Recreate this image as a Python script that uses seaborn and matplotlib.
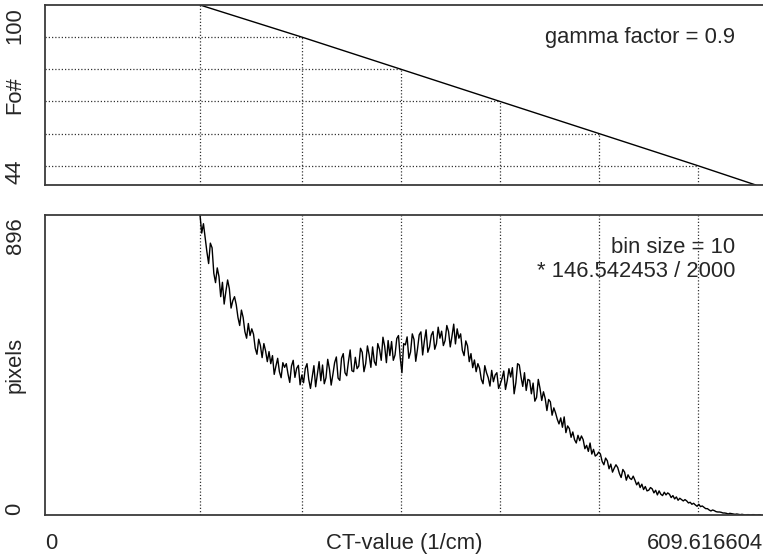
import numpy as np
import matplotlib
matplotlib.use("Agg")
import matplotlib.pyplot as plt
import seaborn as sns

sns.set_style("white")
plt.rcParams['font.family'] = ['Liberation Sans', 'DejaVu Sans']

# Fo# curve at the dotted grid crossings
fo_ct = [131.6, 218.2, 302.3, 386.3, 470.4, 554.4, 603.5]
fo_value = [100, 90, 80, 70, 60, 50, 44]
grid_levels = [100, 90, 80, 70, 60, 50]

x_max = 609.616604
fo_min, fo_max = 44, 100
pix_max = 896

# histogram (bin size = 10 * 146.542453 / 2000), read off every second bin,
# first bin at the Fo# = 100 line
bin_width = 10 * 146.542453 / 2000
hist_step = 2 * bin_width
hist_start = 131.6
hist_counts = [
    896, 842, 870, 828, 786, 751, 812, 798, 722, 694,
    738, 712, 652, 695, 630, 668, 702, 676, 618, 640,
    652, 628, 590, 566, 612, 590, 548, 528, 572, 536,
    556, 540, 498, 480, 525, 506, 470, 512, 490, 458,
    488, 452, 476, 420, 445, 468, 428, 410, 455, 441,
    452, 421, 396, 445, 462, 411, 438, 447, 389, 418,
    395, 438, 452, 405, 378, 412, 446, 383, 421, 458,
    401, 448, 392, 410, 465, 436, 388, 420, 455, 472,
    409, 402, 468, 482, 425, 416, 458, 493, 431, 428,
    471, 437, 445, 498, 486, 428, 452, 505, 478, 441,
    502, 458, 447, 512, 495, 462, 531, 504, 455, 521,
    476, 518, 462, 478, 527, 536, 470, 425, 512, 508,
    532, 468, 487, 541, 524, 459, 495, 538, 547, 478,
    520, 553, 486, 502, 537, 548, 495, 512, 561, 528,
    549, 506, 521, 566, 548, 502, 534, 570, 511, 556,
    528, 541, 492, 476, 520, 505, 458, 482, 440, 463,
    428, 452, 438, 405, 392, 446, 425, 410, 385, 432,
    398, 418, 425, 378, 392, 408, 430, 375, 401, 437,
    412, 440, 362, 395, 452, 448, 412, 384, 425, 372,
    405, 402, 362, 394, 340, 351, 405, 378, 342, 368,
    348, 312, 345, 338, 298, 320, 305, 286, 272, 290,
    262, 293, 246, 266, 258, 232, 248, 225, 215, 238,
    222, 236, 225, 198, 208, 190, 215, 182, 196, 176,
    180, 188, 182, 160, 150, 170, 162, 138, 152, 128,
    140, 150, 142, 124, 112, 136, 128, 104, 120, 110,
    106, 116, 104, 90, 98, 82, 92, 76, 85, 72,
    74, 82, 78, 66, 74, 60, 72, 62, 58, 68,
    60, 66, 62, 52, 58, 48, 54, 44, 50, 46,
    42, 46, 42, 36, 38, 32, 35, 30, 26, 32,
    25, 27, 23, 19, 19, 15, 12, 15, 13, 10,
    9, 9, 8, 6, 6, 5, 3, 5, 4, 3,
    2, 3, 2, 1, 2, 1, 0, 1, 1, 0,
    1, 1, 0, 0, 1, 0,
]
hist_ct = hist_start + hist_step * np.arange(len(hist_counts))

FS = 15.8
spine_col = "#3a3a3a"
dot = dict(color="#333333", lw=0.9, linestyle=(0, (1, 1.6)))

W, H = 763, 555
fig = plt.figure(figsize=(W / 100, H / 100), dpi=100)
ax_top = fig.add_axes([45 / W, 370 / H, 718 / W, 180 / H])
ax_bot = fig.add_axes([45 / W, 40 / H, 718 / W, 300 / H])

for ax in (ax_top, ax_bot):
    ax.set_xlim(0, x_max)
    ax.set_xticks([])
    ax.set_yticks([])
    ax.spines["right"].set_visible(False)
    for s in ("left", "top", "bottom"):
        ax.spines[s].set_color(spine_col)
        ax.spines[s].set_linewidth(1.3)

# top panel: Fo# vs CT-value
ax_top.set_ylim(fo_min, fo_max)
grid_x = np.interp(grid_levels, fo_value[::-1], fo_ct[::-1])
for lev, gx in zip(grid_levels, grid_x):
    ax_top.vlines(gx, fo_min, lev, **dot)
    if lev < fo_max:
        ax_top.hlines(lev, 0, gx, **dot)
sns.lineplot(x=fo_ct, y=fo_value, ax=ax_top, color="black", lw=1.0, estimator=None)
ax_top.set_xlabel("")
ax_top.set_ylabel("")

# bottom panel: histogram of pixels
ax_bot.set_ylim(0, pix_max)
for gx in grid_x:
    ax_bot.axvline(gx, **dot)
sns.lineplot(x=hist_ct, y=hist_counts, ax=ax_bot, color="black", lw=1.0, estimator=None)
ax_bot.set_xlabel("")
ax_bot.set_ylabel("")

# axis annotations
lx = (15 - 45) / 718
ax_top.text(lx, 0.99, "100", rotation=90, ha="center", va="top", fontsize=FS, transform=ax_top.transAxes)
ax_top.text(lx, 0.5, "Fo#", rotation=90, ha="center", va="center", fontsize=FS, transform=ax_top.transAxes)
ax_top.text(lx, 0.005, "44", rotation=90, ha="center", va="bottom", fontsize=FS, transform=ax_top.transAxes)
ax_top.text(0.961, 0.822, "gamma factor = 0.9", ha="right", va="center", fontsize=FS, transform=ax_top.transAxes)

ax_bot.text(lx, 0.993, "896", rotation=90, ha="center", va="top", fontsize=FS, transform=ax_bot.transAxes)
ax_bot.text(lx, 0.5, "pixels", rotation=90, ha="center", va="center", fontsize=FS, transform=ax_bot.transAxes)
ax_bot.text(lx, 0.0, "0", rotation=90, ha="center", va="bottom", fontsize=FS, transform=ax_bot.transAxes)
ax_bot.text(0.961, 0.893, "bin size = 10", ha="right", va="center", fontsize=FS, transform=ax_bot.transAxes)
ax_bot.text(0.961, 0.81, "* 146.542453 / 2000", ha="right", va="center", fontsize=FS, transform=ax_bot.transAxes)

ax_bot.text(0.0, -0.095, "0", ha="left", va="center", fontsize=FS, transform=ax_bot.transAxes)
ax_bot.text(0.5, -0.095, "CT-value (1/cm)", ha="center", va="center", fontsize=FS, transform=ax_bot.transAxes)
ax_bot.text(1.0, -0.095, "609.616604", ha="right", va="center", fontsize=FS, transform=ax_bot.transAxes)

fig.savefig("out.png", dpi=100, facecolor="white")
